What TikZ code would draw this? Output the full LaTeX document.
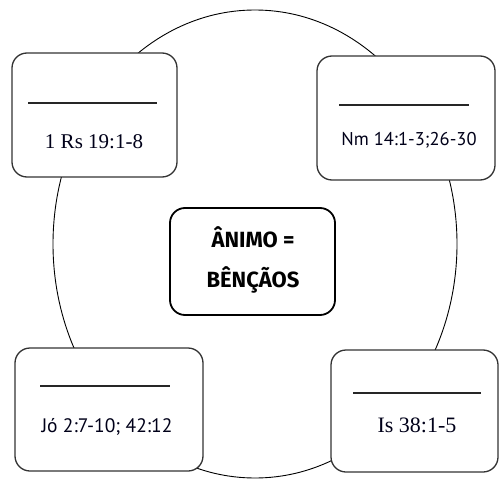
\documentclass[tikz,border=0pt]{standalone}
\usepackage{fontspec}
\setmainfont{Liberation Serif}
\newfontfamily\comic{PT Sans}
\newfontfamily\boldsans{Fira Sans}
\begin{document}
\begin{tikzpicture}[x=1pt,y=-1pt,
  box/.style={draw=black!80, line width=1.3pt, rounded corners=15pt, fill=white, inner sep=0pt},
  blank/.style={line width=1.1pt, draw=black!85},
  ref/.style={text=black!90!blue, inner sep=0pt}]
\useasboundingbox[fill=white] (0,0) rectangle (500,481);
\draw[line width=0.9pt] (255,244) ellipse [x radius=202, y radius=234];
\node[box, minimum width=165pt, minimum height=124pt] (tl) at (94.5,115) {};
\node[box, minimum width=178pt, minimum height=124pt] (tr) at (406,118) {};
\node[box, minimum width=188pt, minimum height=123pt] (bl) at (109,409.5) {};
\node[box, minimum width=167pt, minimum height=122pt] (br) at (414.5,411) {};
\node[box, minimum width=165pt, minimum height=107pt, line width=1.8pt, draw=black] (c) at (252.5,261.5) {};
\draw[blank] (28,103) -- (157,103);
\draw[blank] (339,105) -- (469,105);
\draw[blank] (40,386) -- (170,386);
\draw[blank] (353,393) -- (481,393);
\node[ref, font=\fontsize{21}{24}\selectfont] (t1) at (94,142) {1 Rs 19:1-8};
\node[ref, font=\comic\fontsize{18.5}{22}\selectfont] (t2) at (409,140) {Nm 14:1-3;26-30};
\node[ref, font=\comic\fontsize{19.5}{22}\selectfont] (t3) at (107,427) {Jó 2:7-10; 42:12};
\node[ref, font=\fontsize{22}{24}\selectfont] (t4) at (417,425) {Is 38:1-5};
\node[font=\boldsans\bfseries\fontsize{22}{40}\selectfont, align=center, inner sep=0pt] (ct) at (253,260) {ÂNIMO =\\BÊNÇÃOS};
\end{tikzpicture}
\end{document}
